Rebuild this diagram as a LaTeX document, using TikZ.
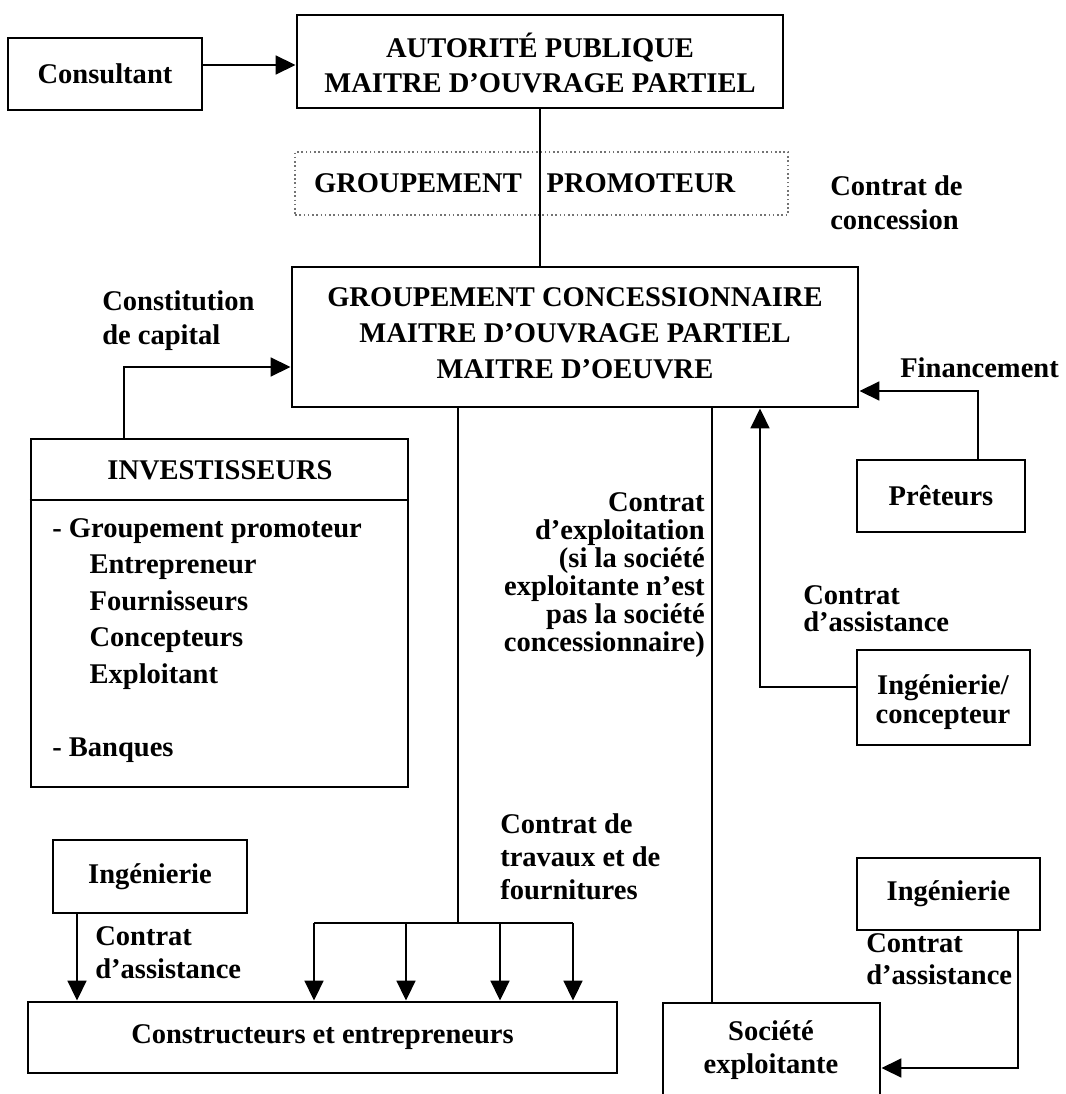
\documentclass[tikz,border=0pt]{standalone}
\usepackage{fontspec}
\setmainfont{Liberation Serif}
\usetikzlibrary{arrows.meta,fit}
\begin{document}
\begin{tikzpicture}[x=0.75pt,y=-0.75pt,
  every node/.style={font=\fontsize{21.4pt}{21pt}\selectfont\bfseries},
  ls/.style={font=\fontsize{21.4pt}{#1}\selectfont\bfseries},
  box/.style={draw,line width=2.1pt,inner sep=0pt},
  txt/.style={inner sep=0pt,align=center},
  lab/.style={inner sep=0pt,align=left,anchor=north west},
  con/.style={line width=2.1pt},
  arr/.style={con,-{Triangle[length=15pt,width=14pt]}},
]
\useasboundingbox (0,0) rectangle (1065,1094);

% ---- public authority and its consultant
\node[box,fit={(8,38)(202,110)}] (cons) {};
\node[txt] (const) at (cons.center) {Consultant};
\node[box,fit={(297,15)(783,108)}] (aut) {};
\node[txt,ls=26pt] (autt) at (540,63) {AUTORITÉ PUBLIQUE\\MAITRE D’OUVRAGE PARTIEL};
\coordinate (ca) at (0,65);
\draw[arr] (ca -| cons.east) -- (ca -| aut.west);

% ---- promoter group (dotted frame)
\node[draw=black!55,dotted,line width=1.2pt,inner sep=0pt,fit={(295,152)(788,215)}] (prom) {};
\node[txt] (gp1) at (418,183) {GROUPEMENT};
\node[txt] (gp2) at (641,183) {PROMOTEUR};
\node[lab,ls=26pt] (cc) at (830,175) {Contrat de\\concession};

% ---- concession holder
\node[box,fit={(292,267)(858,407)}] (conc) {};
\node[txt,ls=27pt] (conct) at (575,333) {GROUPEMENT CONCESSIONNAIRE\\MAITRE D’OUVRAGE PARTIEL\\MAITRE D’OEUVRE};
\coordinate (vx) at (540,0);
\draw[con] (vx |- aut.south) -- (vx |- conc.north);

% ---- investors
\node[box,fit={(31,439)(408,787)}] (inv) {};
\coordinate (dv) at (0,500);
\draw[con] (dv -| inv.west) -- (dv -| inv.east);
\node[txt] (invt) at (220,470) {INVESTISSEURS};
\node[lab,ls=27.4pt] (invl) at (52,518) {- Groupement promoteur\\
  \hspace*{28pt}Entrepreneur\\
  \hspace*{28pt}Fournisseurs\\
  \hspace*{28pt}Concepteurs\\
  \hspace*{28pt}Exploitant\\
  \mbox{}\\
  - Banques};
\node[lab,ls=26pt] (cap) at (102,290) {Constitution\\de capital};
\coordinate (capx) at (124,367);
\draw[arr] (capx |- inv.north) |- (capx -| conc.west);

% ---- lenders
\node[box,fit={(857,460)(1025,532)}] (pret) {};
\node[txt] (prett) at (pret.center) {Prêteurs};
\coordinate (fa) at (978,391);
\draw[arr] (fa |- pret.north) |- (fa -| conc.east);
\node[inner sep=0pt,anchor=base west] (fin) at (900,378) {Financement};

% ---- design engineering
\node[box,fit={(857,650)(1030,745)}] (ingc) {};
\node[txt,ls=21.75pt] (ingct) at (943,702) {Ingénierie/\\concepteur};
\coordinate (ia) at (760,687);
\draw[arr] (ia -| ingc.west) -| (ia |- conc.south);
\node[lab,ls=20.5pt] (ass1) at (803,585) {Contrat\\d’assistance};

% ---- operating company
\node[box,fit={(663,1003)(880,1115)}] (soc) {};
\node[txt,ls=25pt] (soct) at (771,1050) {Société\\exploitante};
\coordinate (ex) at (712,0);
\draw[con] (ex |- conc.south) -- (ex |- soc.north);
\node[inner sep=0pt,align=right,anchor=north east,ls=21pt] (exl) at (705,492) {Contrat\\d’exploitation\\(si la société\\exploitante n’est\\pas la société\\concessionnaire)};

\node[box,fit={(857,858)(1040,930)}] (ing2) {};
\node[txt] (ing2t) at (ing2.center) {Ingénierie};
\coordinate (ir) at (1018,1068);
\draw[arr] (ir |- ing2.south) |- (ir -| soc.east);
\node[lab,ls=24pt] (ass3) at (866,933) {Contrat\\d’assistance};

% ---- builders and contractors
\node[box,fit={(28,1002)(617,1073)}] (cstr) {};
\node[txt] (cstrt) at (cstr.center) {Constructeurs et entrepreneurs};
\coordinate (br) at (458,923);
\draw[con] (br |- conc.south) -- (br);
\coordinate (b1) at (314,923);
\coordinate (b2) at (406,923);
\coordinate (b3) at (500,923);
\coordinate (b4) at (573,923);
\draw[con] (b1) -- (b4);
\foreach \b in {b1,b2,b3,b4} \draw[arr] (\b) -- (\b |- cstr.north);
\node[lab,ls=24.75pt] (trav) at (500,813) {Contrat de\\travaux et de\\fournitures};

\node[box,fit={(53,840)(247,913)}] (ing1) {};
\node[txt] (ing1t) at (ing1.center) {Ingénierie};
\coordinate (i1) at (77,0);
\draw[arr] (i1 |- ing1.south) -- (i1 |- cstr.north);
\node[lab,ls=25pt] (ass2) at (95,926) {Contrat\\d’assistance};
\end{tikzpicture}
\end{document}
